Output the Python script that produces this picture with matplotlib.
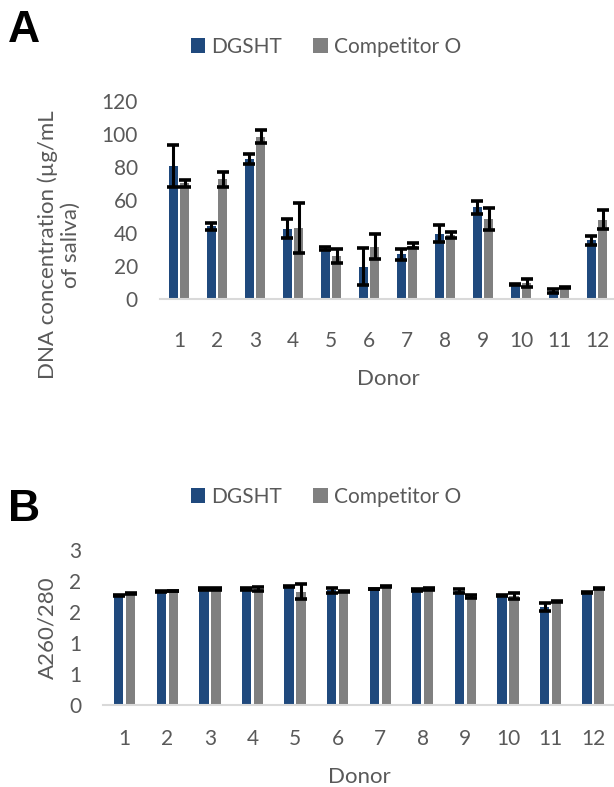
import matplotlib
matplotlib.use("Agg")
import matplotlib.pyplot as plt
import numpy as np

plt.rcParams['font.family'] = ['Lato', 'DejaVu Sans']

donors = ["1", "2", "3", "4", "5", "6", "7", "8", "9", "10", "11", "12"]

# Panel A: DNA concentration (ug/mL of saliva)
conc_dgsht = [80.5, 44, 84.6, 42.5, 30.5, 19.6, 27, 39.5, 55.4, 8.5, 4.6, 35.5]
conc_dgsht_err = [12.6, 2.2, 3.1, 5.8, 0.8, 11.1, 3.3, 5.2, 4.1, 0.3, 1.2, 2.8]
conc_comp = [70, 72.5, 98.2, 43.1, 26, 31.6, 32.2, 38.9, 48.5, 9.6, 6.8, 48.1]
conc_comp_err = [2, 4.5, 4, 15.1, 4, 7.6, 1.5, 1.8, 6.7, 2.5, 0.4, 5.8]

# Panel B: A260/280 ratio
ratio_dgsht = [1.77, 1.83, 1.87, 1.87, 1.91, 1.85, 1.87, 1.855, 1.84, 1.77, 1.585, 1.82]
ratio_dgsht_err = [0.01, 0.01, 0.01, 0.01, 0.01, 0.045, 0.005, 0.01, 0.027, 0.01, 0.065, 0.01]
ratio_comp = [1.80, 1.84, 1.87, 1.87, 1.83, 1.83, 1.91, 1.87, 1.75, 1.755, 1.67, 1.88]
ratio_comp_err = [0.01, 0.005, 0.01, 0.027, 0.12, 0.01, 0.01, 0.01, 0.03, 0.045, 0.01, 0.01]
ratio_ticks = [0, 0.5, 1.0, 1.5, 2.0, 2.5]
ratio_ticklabels = ["0", "1", "1", "2", "2", "3"]

BLUE = "#1f497d"
GRAY = "#808080"
TXT = "#595959"
FS = 15

W, H = 614, 787
fig = plt.figure(figsize=(W / 100, H / 100), dpi=100)


def panel(rect, v1, e1, v2, e2, width, off):
    ax = fig.add_axes(rect)
    x = np.arange(len(donors))
    ekw = dict(ecolor="black", elinewidth=2.2, capsize=4.5, capthick=2.6)
    b1 = ax.bar(x - off, v1, width, color=BLUE, yerr=e1, error_kw=ekw, label="DGSHT")
    b2 = ax.bar(x + off, v2, width, color=GRAY, yerr=e2, error_kw=ekw, label="Competitor O")
    ax.set_xlim(-0.5, len(donors) - 0.5)
    ax.set_xticks(x)
    ax.set_xticklabels(donors)
    for s in ["top", "right", "left"]:
        ax.spines[s].set_visible(False)
    ax.spines["bottom"].set_color("#d9d9d9")
    ax.spines["bottom"].set_linewidth(1.5)
    ax.tick_params(length=0, labelsize=FS, colors=TXT)
    return ax, b1, b2


# Panel A
axA, b1, b2 = panel([160 / W, 1 - 299 / H, 456 / W, 198.3 / H],
                    conc_dgsht, conc_dgsht_err, conc_comp, conc_comp_err, 0.24, 0.147)
axA.set_ylim(0, 120)
axA.set_yticks(np.arange(0, 121, 20))
axA.tick_params(axis="y", pad=16)
axA.tick_params(axis="x", pad=23)
axA.set_xlabel("Donor", fontsize=FS + 1, color=TXT, va="center")
axA.xaxis.set_label_coords(0.5, (299 - 379) / 198.3)
axA.set_ylabel("DNA concentration (µg/mL\nof saliva)", fontsize=FS + 1, color=TXT,
               va="center", ha="center", multialignment="center", linespacing=1.15)
axA.yaxis.set_label_coords((59 - 160) / 456, (299 - 245) / 198.3)

# Panel B
axB, c1, c2 = panel([103.4 / W, 1 - 705 / H, 511 / W, 155 / H],
                    ratio_dgsht, ratio_dgsht_err, ratio_comp, ratio_comp_err, 0.22, 0.141)
axB.set_ylim(0, 2.5)
axB.set_yticks(ratio_ticks)
axB.set_yticklabels(ratio_ticklabels)
axB.tick_params(axis="y", pad=16)
axB.tick_params(axis="x", pad=17)
axB.set_xlabel("Donor", fontsize=FS + 1, color=TXT, va="center")
axB.xaxis.set_label_coords(0.5, (705 - 777) / 155)
axB.set_ylabel("A260/280", fontsize=FS + 1, color=TXT, va="center", ha="center")
axB.yaxis.set_label_coords((47 - 103.4) / 511, (705 - 628) / 155)

# legends
for ax, yc in [(axA, 47), (axB, 497)]:
    h, l = ax.get_legend_handles_labels()
    fig.legend(h, l, loc="center", bbox_to_anchor=(326 / W, 1 - yc / H), ncol=2,
               frameon=False, fontsize=FS, labelcolor=TXT, handlelength=0.7,
               handleheight=0.7, handletextpad=0.3, columnspacing=1.5)

# panel letters
fig.text(8 / W, 1 - 42 / H, "A", fontsize=32, fontweight="bold",
         family="Liberation Sans", va="baseline")
fig.text(8 / W, 1 - 521 / H, "B", fontsize=32, fontweight="bold",
         family="Liberation Sans", va="baseline")

fig.savefig("out.png", dpi=100)
